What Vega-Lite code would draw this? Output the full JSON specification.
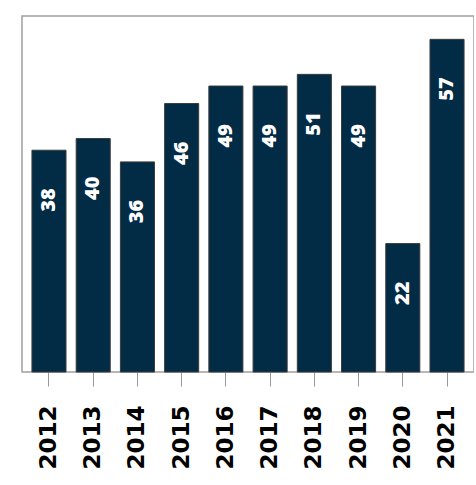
{
  "$schema": "https://vega.github.io/schema/vega-lite/v6.json",
  "width": 452,
  "height": 356,
  "padding": {"left": 22, "top": 16, "right": 0, "bottom": 0},
  "background": "white",
  "data": {"values": [
    {"year": "2012", "value": 38},
    {"year": "2013", "value": 40},
    {"year": "2014", "value": 36},
    {"year": "2015", "value": 46},
    {"year": "2016", "value": 49},
    {"year": "2017", "value": 49},
    {"year": "2018", "value": 51},
    {"year": "2019", "value": 49},
    {"year": "2020", "value": 22},
    {"year": "2021", "value": 57}
  ]},
  "encoding": {
    "x": {
      "field": "year", "type": "ordinal",
      "scale": {"paddingInner": 0.23, "paddingOuter": 0.225},
      "axis": {
        "title": null, "domain": false, "labelAngle": 270,
        "labelAlign": "right", "labelBaseline": "middle",
        "labelFont": "DejaVu Sans", "labelFontWeight": "bold", "labelFontSize": 23,
        "labelColor": "#000000", "labelPadding": 19,
        "tickSize": 14, "tickColor": "#999999", "tickWidth": 1
      }
    },
    "y": {
      "field": "value", "type": "quantitative",
      "scale": {"domain": [0, 61], "nice": false},
      "axis": null
    }
  },
  "layer": [
    {"mark": {"type": "bar", "color": "#022B46", "stroke": "#3a3a3a", "strokeWidth": 1}},
    {
      "mark": {
        "type": "text", "angle": 270, "align": "right", "baseline": "middle",
        "dx": -38, "color": "white", "font": "Open Sans", "fontWeight": 800, "fontSize": 20
      },
      "encoding": {"text": {"field": "value", "type": "quantitative"}}
    }
  ],
  "config": {
    "view": {"stroke": "#a0a0a0", "strokeWidth": 1.5}
  }
}
